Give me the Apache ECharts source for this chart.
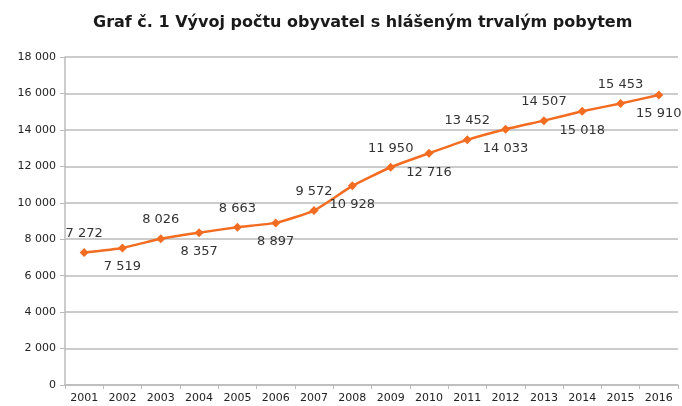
<!DOCTYPE html>
<html>
<head>
<meta charset="utf-8">
<script src="https://cdn.jsdelivr.net/npm/echarts@6/dist/echarts.min.js"></script>
<style>
  html, body { margin: 0; padding: 0; background: #fff; }
  #chart { width: 682px; height: 406px; }
</style>
</head>
<body>
<div id="chart"></div>
<script>
var years = ['2001', '2002', '2003', '2004', '2005', '2006', '2007', '2008',
  '2009', '2010', '2011', '2012', '2013', '2014', '2015', '2016'];
var obyvatele = [7272, 7519, 8026, 8357, 8663, 8897, 9572, 10928,
  11950, 12716, 13452, 14033, 14507, 15018, 15453, 15910];

// mezery jako oddelovac tisicu
function fmt(v) {
  return String(v).replace(/\B(?=(\d{3})+(?!\d))/g, ' ');
}

// popisky stridave nad a pod bodem
var seriesData = [];
for (var i = 0; i < obyvatele.length; i++) {
  seriesData.push({
    value: obyvatele[i],
    label: { position: i % 2 === 0 ? 'top' : 'bottom' }
  });
}

var chart = echarts.init(document.getElementById('chart'));
var font = 'DejaVu Sans, Verdana, sans-serif';

chart.setOption({
  animation: false,
  title: {
    text: 'Graf č. 1 Vývoj počtu obyvatel s hlášeným trvalým pobytem',
    left: 88,
    top: 10,
    textStyle: { fontFamily: font, fontSize: 16, fontWeight: 'bold', color: '#1a1a1a' }
  },
  grid: { left: 65, right: 4, top: 57, bottom: 21 },
  xAxis: {
    type: 'category',
    data: years,
    boundaryGap: true,
    axisLine: { lineStyle: { color: '#bbb', width: 1.5 } },
    axisTick: { show: true, length: 4, lineStyle: { color: '#bbb' } },
    axisLabel: { fontFamily: font, fontSize: 11, color: '#222', margin: 8 }
  },
  yAxis: {
    type: 'value',
    min: 0,
    max: 18000,
    interval: 2000,
    axisLine: { show: true, lineStyle: { color: '#bbb', width: 1.5 } },
    axisTick: { show: true, length: 5, lineStyle: { color: '#bbb' } },
    axisLabel: {
      fontFamily: font, fontSize: 11, color: '#222', margin: 9,
      formatter: function (v) { return fmt(v); }
    },
    splitLine: { lineStyle: { color: '#bbb', width: 1.5 } }
  },
  series: [{
    type: 'line',
    data: seriesData,
    smooth: 0.15,
    symbol: 'diamond',
    symbolSize: 9,
    lineStyle: { color: '#f26c21', width: 2.5 },
    itemStyle: { color: '#f26c21' },
    label: {
      show: true,
      distance: 8,
      fontFamily: font,
      fontSize: 13,
      color: '#333',
      formatter: function (p) { return fmt(p.value); }
    }
  }]
});
</script>
</body>
</html>
